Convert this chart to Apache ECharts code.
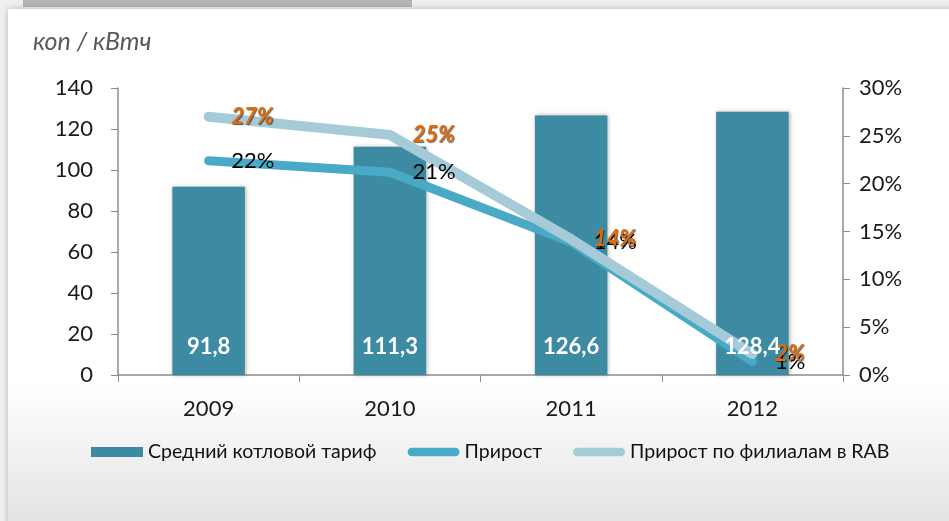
<!DOCTYPE html>
<html>
<head>
    <meta http-equiv="Content-Type" content="text/html; charset=utf-8"/>
    <title>ECharts</title>
    <script src="https://cdn.jsdelivr.net/npm/echarts@6/dist/echarts.min.js"></script>
    <style>
        html, body { margin: 0; padding: 0; background: #efefef; }
        #main { width: 949px; height: 521px; }
    </style>
</head>
<body>
<div id="main"></div>
<script type="text/javascript">
    // данные
    var years = ['2009', '2010', '2011', '2012'];
    var tariff = [91.8, 111.3, 126.6, 128.4];          // коп / кВтч
    var growth = [22.4, 21.2, 13.9, 1.4];              // Прирост, %
    var growthRab = [27.0, 25.1, 14.2, 2.2];           // Прирост по филиалам в RAB, %
    var leftTicks = [0, 140, 20];
    var rightTicks = [0, 30, 5];

    var FONT = 'Lato, "Noto Sans", sans-serif';
    var myChart = echarts.init(document.getElementById('main'));

    var capsule = 'path://M5,0 H55 A5,5 0 0 1 55,10 H5 A5,5 0 0 1 5,0 Z';
    var pct = function (p) { return Math.round(p.value) + '%'; };

    // прозрачная линия только для подписей (чтобы подписи были поверх линий)
    function labelLine(name, data, z, label) {
        return {
            name: name,
            type: 'line',
            yAxisIndex: 1,
            data: data,
            silent: true,
            symbol: 'circle',
            symbolSize: 1,
            showSymbol: true,
            lineStyle: { color: 'rgba(0,0,0,0)', width: 0 },
            itemStyle: { color: 'rgba(0,0,0,0)' },
            label: label,
            labelLayout: { hideOverlap: false },
            z: z
        };
    }

    myChart.setOption({
        animation: false,
        backgroundColor: '#efefef',
        textStyle: { fontFamily: FONT },
        graphic: [
            { type: 'rect', z: -100, silent: true, shape: { x: 23, y: 0, width: 389, height: 7 },
              style: { fill: '#b4b4b4' } },
            { type: 'rect', z: -100, silent: true, shape: { x: 8, y: 9, width: 960, height: 520 },
              style: {
                  fill: new echarts.graphic.LinearGradient(0, 0, 0, 1, [
                      { offset: 0, color: '#ffffff' },
                      { offset: 0.72, color: '#ffffff' },
                      { offset: 1, color: '#e2e2e2' }
                  ]),
                  shadowBlur: 6, shadowColor: 'rgba(0,0,0,0.25)'
              } },
            { type: 'text', left: 33, top: 29, silent: true,
              style: { text: 'коп / кВтч', fontFamily: FONT, fontSize: 25, fontStyle: 'italic', fill: '#595959' } }
        ],
        legend: {
            left: 86, top: 437,
            itemWidth: 52, itemHeight: 10, itemGap: 31,
            textStyle: { fontSize: 19.5, color: '#111', fontFamily: FONT },
            data: [
                { name: 'Средний котловой тариф', icon: 'rect' },
                { name: 'Прирост', icon: capsule },
                { name: 'Прирост по филиалам в RAB', icon: capsule }
            ]
        },
        grid: { left: 118, right: 106, top: 88, bottom: 146 },
        xAxis: {
            type: 'category',
            data: years,
            axisLine: { lineStyle: { color: '#8c8c8c', width: 1.5 } },
            axisTick: { show: true, length: 7, lineStyle: { color: '#8c8c8c' } },
            axisLabel: { fontSize: 22, color: '#1a1a1a', margin: 23 }
        },
        yAxis: [
            {
                type: 'value', min: leftTicks[0], max: leftTicks[1], interval: leftTicks[2],
                axisLine: { show: true, lineStyle: { color: '#8c8c8c', width: 1.5 } },
                axisTick: { show: true, length: 7, lineStyle: { color: '#8c8c8c' } },
                splitLine: { show: false },
                axisLabel: { fontSize: 22, color: '#1a1a1a', margin: 25 }
            },
            {
                type: 'value', min: rightTicks[0], max: rightTicks[1], interval: rightTicks[2],
                position: 'right',
                axisLine: { show: true, lineStyle: { color: '#8c8c8c', width: 1.5 } },
                axisTick: { show: true, length: 7, lineStyle: { color: '#8c8c8c' } },
                splitLine: { show: false },
                axisLabel: { fontSize: 22, color: '#1a1a1a', margin: 16, formatter: '{value}%' }
            }
        ],
        series: [
            {
                name: 'Средний котловой тариф',
                type: 'bar',
                barWidth: '40%',
                data: tariff,
                itemStyle: { color: '#3d8ba3', shadowBlur: 4, shadowColor: 'rgba(0,0,0,0.3)', shadowOffsetX: 1 }
            },
            {
                // те же столбцы, только подписи поверх линий
                name: 'labels',
                type: 'bar',
                barWidth: '40%',
                barGap: '-100%',
                data: tariff,
                silent: true,
                itemStyle: { color: 'rgba(0,0,0,0)' },
                label: {
                    show: true, position: 'insideBottom', distance: 17,
                    color: '#ffffff', fontWeight: 'bold', fontSize: 22,
                    formatter: function (p) { return String(p.value).replace('.', ','); }
                },
                z: 10
            },
            {
                name: 'Прирост',
                type: 'line',
                yAxisIndex: 1,
                data: growth,
                symbol: 'none',
                lineStyle: { color: '#48aac7', width: 9, cap: 'round', join: 'round' },
                itemStyle: { color: '#48aac7' },
                z: 3
            },
            {
                name: 'Прирост по филиалам в RAB',
                type: 'line',
                yAxisIndex: 1,
                data: growthRab,
                symbol: 'none',
                lineStyle: { color: '#a6cbd8', width: 10, cap: 'round', join: 'round' },
                itemStyle: { color: '#a6cbd8' },
                z: 4
            },
            labelLine('growthLabels', growth, 5, {
                show: true, position: 'right', distance: 22, offset: [0, 2],
                color: '#000', fontSize: 22,
                formatter: pct
            }),
            labelLine('rabLabels', growthRab, 6, {
                show: true, position: 'right', distance: 22, offset: [0, 1],
                color: '#e36c0a', fontSize: 22, fontWeight: 'bold', fontStyle: 'italic',
                textShadowColor: 'rgba(0,0,0,0.6)', textShadowOffsetX: 1, textShadowOffsetY: 1, textShadowBlur: 1,
                formatter: pct
            })
        ]
    });
</script>
</body>
</html>
